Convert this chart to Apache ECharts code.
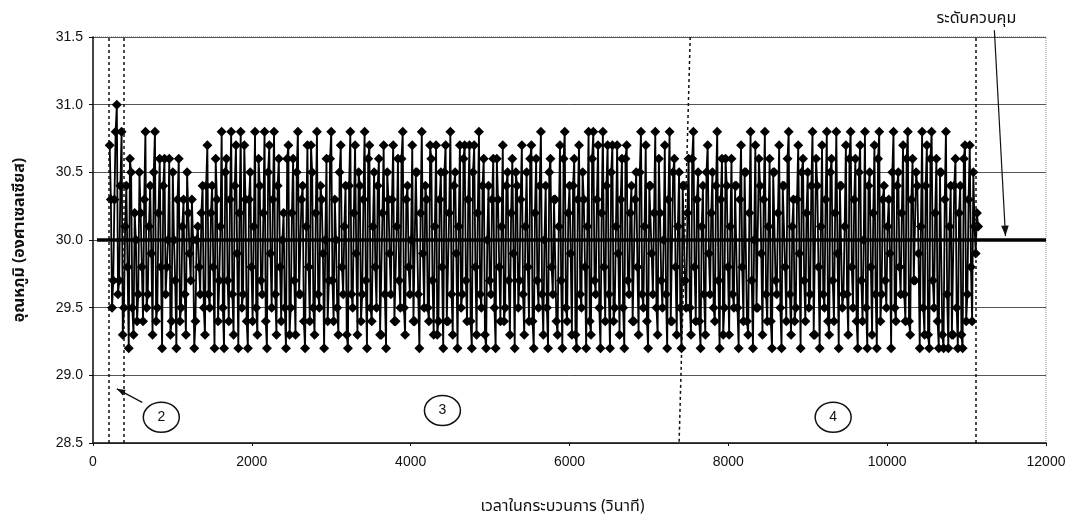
<!DOCTYPE html>
<html>
<head>
<meta charset="utf-8">
<script src="https://cdn.jsdelivr.net/npm/echarts@6/dist/echarts.min.js"></script>
<style>
  html, body { margin: 0; padding: 0; background: #fff; }
  #chart { width: 1075px; height: 519px; }
</style>
</head>
<body>
<div id="chart"></div>
<script>
// readings every 15 s from 210 s; tempsEven at 210, 240, ... and tempsOdd at 225, 255, ...
const startTime = 210
const stepTime = 15
const tempsEven = [
  30.7, 29.5, 30.3, 31.0, 29.7, 30.8, 29.5, 30.4, 29.2, 30.5, 29.3, 30.0, 29.6, 30.2, 29.4, 30.8, 29.6, 30.4, 29.3, 30.8,
  29.5, 30.6, 29.2, 30.6, 29.8, 30.6, 29.4, 30.0, 29.2, 30.6, 29.5, 30.3, 29.3, 30.2, 29.7, 30.0, 29.4, 30.1, 29.6, 30.4,
  29.3, 30.7, 29.5, 30.4, 29.2, 30.3, 29.7, 30.8, 29.2, 30.6, 29.4, 30.8, 29.3, 30.7, 29.2, 30.8, 29.6, 30.3, 29.2, 30.5,
  29.4, 30.8, 29.3, 30.4, 29.6, 30.8, 29.2, 30.7, 29.5, 30.8, 29.3, 30.6, 29.4, 30.2, 29.2, 30.7, 29.5, 30.6, 29.3, 30.8,
  29.6, 30.4, 29.2, 30.7, 29.4, 30.5, 29.3, 30.8, 29.5, 30.3, 29.2, 30.6, 29.7, 30.8, 29.4, 30.0, 29.3, 30.7, 29.6, 30.4,
  29.2, 30.8, 29.5, 30.7, 29.3, 30.4, 29.6, 30.8, 29.2, 30.7, 29.4, 30.5, 29.5, 30.6, 29.3, 30.7, 29.2, 30.3, 29.6, 30.7,
  29.4, 30.6, 29.5, 30.8, 29.3, 30.4, 29.6, 30.7, 29.4, 30.5, 29.2, 30.8, 29.5, 30.3, 29.4, 30.6, 29.3, 30.7, 29.4, 30.5,
  29.2, 30.7, 29.4, 30.8, 29.3, 30.5, 29.2, 30.7, 29.6, 30.7, 29.4, 30.7, 29.2, 30.7, 29.3, 30.8, 29.5, 30.6, 29.2, 30.4,
  29.6, 30.6, 29.2, 30.3, 29.4, 30.7, 29.5, 30.5, 29.3, 30.6, 29.2, 30.4, 29.7, 30.7, 29.3, 30.5, 29.4, 30.7, 29.2, 30.6,
  29.5, 30.8, 29.3, 30.4, 29.2, 30.6, 29.6, 30.3, 29.3, 30.7, 29.2, 30.8, 29.4, 30.4, 29.3, 30.6, 29.2, 30.7, 29.5, 30.3,
  29.2, 30.8, 29.3, 30.8, 29.6, 30.7, 29.2, 30.8, 29.4, 30.7, 29.2, 30.7, 29.5, 30.7, 29.3, 30.6, 29.2, 30.7, 29.6, 30.4,
  29.4, 30.5, 29.3, 30.8, 29.5, 30.7, 29.2, 30.4, 29.6, 30.8, 29.3, 30.2, 29.5, 30.7, 29.2, 30.8, 29.4, 30.6, 29.3, 30.5,
  29.2, 30.4, 29.5, 30.6, 29.3, 30.8, 29.4, 30.5, 29.2, 30.4, 29.3, 30.7, 29.6, 30.5, 29.4, 30.8, 29.2, 30.6, 29.5, 30.4,
  29.3, 30.6, 29.5, 30.4, 29.2, 30.7, 29.4, 30.5, 29.3, 30.8, 29.2, 30.7, 29.5, 30.4, 29.3, 30.8, 29.4, 30.6, 29.2, 30.5,
  29.6, 30.7, 29.2, 30.4, 29.4, 30.8, 29.3, 30.3, 29.5, 30.7, 29.2, 30.6, 29.4, 30.5, 29.6, 30.8, 29.3, 30.4, 29.2, 30.7,
  29.5, 30.8, 29.3, 30.6, 29.4, 30.8, 29.2, 30.4, 29.6, 30.7, 29.3, 30.8, 29.5, 30.6, 29.2, 30.7, 29.4, 30.8, 29.2, 30.5,
  29.3, 30.7, 29.2, 30.8, 29.6, 30.4, 29.5, 30.3, 29.2, 30.8, 29.4, 30.5, 29.6, 30.7, 29.4, 30.8, 29.3, 30.6, 29.7, 30.4,
  29.2, 30.8, 29.3, 30.7, 29.2, 30.8, 29.5, 30.6, 29.2, 30.5, 29.2, 30.8, 29.2, 30.4, 29.3, 30.6, 29.2, 30.4, 29.2, 30.7,
  29.6, 30.7, 29.4, 30.1, 30.2
]
const tempsOdd = [
  30.3, 29.7, 30.8, 29.6, 30.4, 29.3, 30.1, 29.8, 30.6, 29.5, 30.2, 29.4, 30.5, 29.8, 30.3, 29.5, 30.1, 29.9, 30.5, 29.4,
  30.2, 29.8, 30.4, 29.6, 30.0, 29.3, 30.5, 29.7, 30.3, 29.4, 30.1, 29.6, 30.5, 29.9, 30.3, 29.2, 30.0, 29.8, 30.2, 29.5,
  30.4, 29.6, 30.2, 29.8, 30.6, 29.4, 30.1, 29.5, 30.5, 29.7, 30.3, 29.6, 30.4, 29.9, 30.2, 29.5, 30.7, 29.4, 30.3, 29.8,
  30.1, 29.5, 30.6, 29.7, 30.2, 29.4, 30.5, 29.9, 30.3, 29.6, 30.4, 29.8, 30.0, 29.5, 30.6, 29.3, 30.2, 29.7, 30.5, 29.6,
  30.3, 29.4, 30.1, 29.8, 30.7, 29.5, 30.2, 29.6, 30.4, 29.9, 30.0, 29.4, 30.6, 29.7, 30.3, 29.5, 30.5, 29.8, 30.1, 29.3,
  30.4, 29.6, 30.2, 29.9, 30.5, 29.4, 30.3, 29.7, 30.6, 29.5, 30.1, 29.8, 30.4, 29.3, 30.2, 29.6, 30.5, 29.9, 30.3, 29.4,
  30.1, 29.7, 30.6, 29.5, 30.3, 29.8, 30.0, 29.4, 30.5, 29.6, 30.2, 29.9, 30.4, 29.5, 30.7, 29.7, 30.1, 29.3, 30.3, 29.8,
  30.5, 29.4, 30.2, 29.6, 30.4, 29.9, 30.1, 29.5, 30.6, 29.7, 30.3, 29.4, 30.5, 29.8, 30.2, 29.6, 30.4, 29.3, 30.0, 29.7,
  30.3, 29.5, 30.6, 29.8, 30.1, 29.4, 30.4, 29.7, 30.2, 29.9, 30.5, 29.5, 30.3, 29.6, 30.1, 29.8, 30.6, 29.4, 30.2, 29.7,
  30.4, 29.6, 30.0, 29.5, 30.5, 29.8, 30.3, 29.4, 30.1, 29.7, 30.6, 29.5, 30.2, 29.9, 30.4, 29.3, 30.3, 29.6, 30.5, 29.8,
  30.1, 29.4, 30.6, 29.7, 30.3, 29.5, 30.2, 29.8, 30.4, 29.6, 30.5, 29.4, 30.1, 29.9, 30.3, 29.5, 30.6, 29.7, 30.2, 29.4,
  30.3, 29.8, 30.5, 29.6, 30.1, 29.4, 30.4, 29.9, 30.2, 29.5, 30.6, 29.7, 30.0, 29.6, 30.3, 29.4, 30.5, 29.8, 30.1, 29.5,
  30.4, 29.7, 30.2, 29.5, 30.6, 29.8, 30.3, 29.4, 30.1, 29.6, 30.5, 29.9, 30.2, 29.5, 30.4, 29.7, 30.3, 29.3, 30.6, 29.8,
  30.1, 29.6, 30.4, 29.5, 30.3, 29.8, 30.5, 29.4, 30.2, 29.7, 30.0, 29.5, 30.6, 29.9, 30.3, 29.6, 30.1, 29.4, 30.5, 29.7,
  30.2, 29.5, 30.4, 29.8, 30.6, 29.6, 30.1, 29.4, 30.3, 29.9, 30.5, 29.7, 30.2, 29.5, 30.4, 29.3, 30.6, 29.8, 30.1, 29.6,
  30.3, 29.4, 30.5, 29.7, 30.2, 29.9, 30.4, 29.5, 30.1, 29.6, 30.6, 29.8, 30.3, 29.4, 30.5, 29.7, 30.0, 29.5, 30.4, 29.8,
  30.2, 29.6, 30.6, 29.4, 30.3, 29.7, 30.1, 29.9, 30.5, 29.5, 30.4, 29.8, 30.2, 29.6, 30.6, 29.4, 30.3, 29.7, 30.5, 29.9,
  30.1, 29.5, 30.4, 29.3, 30.6, 29.7, 30.2, 29.4, 30.5, 29.3, 30.3, 29.6, 30.1, 29.3, 30.4, 29.5, 30.2, 29.3, 30.6, 29.4,
  30.3, 29.8, 30.5, 29.9, 30.1
]

const controlLevel = 30.0
const controlSpan = [50, 12000]
const phaseLines = [200, 390, 11110]
const slantLine = [[7520, 31.5], [7380, 28.5]]

const xTicks = { min: 0, max: 12000, interval: 2000 }
const yTicks = { min: 28.5, max: 31.5, interval: 0.5 }

const points = []
tempsEven.forEach((v, i) => {
  points.push([startTime + 2 * i * stepTime, v])
  if (i < tempsOdd.length - 1 || i === tempsEven.length - 1)
    points.push([startTime + (2 * i + 1) * stepTime, tempsOdd[i]])
})

const thaiFont = '"Noto Sans Thai", "Noto Sans", "DejaVu Sans", sans-serif'
const numFont = '"Liberation Sans", Arial, sans-serif'

const chart = echarts.init(document.getElementById('chart'), null, { renderer: 'canvas' })

chart.setOption({
  animation: false,
  backgroundColor: '#fff',
  grid: {
    left: 93,
    right: 29,
    top: 37,
    bottom: 76,
    outerBoundsMode: 'none',
    show: true,
    borderColor: '#888',
    borderWidth: 1,
    borderType: 'dotted',
  },
  xAxis: {
    type: 'value',
    ...xTicks,
    name: 'เวลาในกระบวนการ (วินาที)',
    nameLocation: 'middle',
    nameGap: 57,
    nameTextStyle: { color: '#111', fontSize: 16, fontFamily: thaiFont, padding: [0, 14, 0, 0] },
    axisLine: { lineStyle: { color: '#111', width: 1.5 } },
    axisTick: { show: true, length: 3, lineStyle: { color: '#111' } },
    axisLabel: { color: '#111', fontSize: 14, fontFamily: numFont, margin: 12, formatter: v => String(v) },
    splitLine: { show: false },
  },
  yAxis: {
    type: 'value',
    ...yTicks,
    name: 'อุณหภูมิ (องศาเซลเซียส)',
    nameLocation: 'middle',
    nameGap: 64,
    nameTextStyle: { color: '#111', fontSize: 16, fontWeight: 'bold', fontFamily: thaiFont },
    axisLine: { show: true, lineStyle: { color: '#111', width: 1.5 } },
    axisTick: { show: true, length: 4, lineStyle: { color: '#111' } },
    axisLabel: {
      color: '#111',
      fontSize: 14,
      fontFamily: numFont,
      margin: 10,
      formatter: v => v.toFixed(1),
    },
    splitLine: { show: true, lineStyle: { color: '#555', width: 1 } },
  },
  series: [
    {
      name: 'temperature',
      type: 'line',
      data: points,
      symbol: 'diamond',
      symbolSize: 10,
      showSymbol: true,
      showAllSymbol: true,
      lineStyle: { color: '#000', width: 1.8 },
      itemStyle: { color: '#000' },
      z: 3,
      markLine: {
        silent: true,
        symbol: 'none',
        label: { show: false },
        lineStyle: { color: '#111', type: [3, 3], width: 1.5 },
        data: [
          ...phaseLines.map(x => ({ xAxis: x })),
          [{ coord: slantLine[0] }, { coord: slantLine[1] }],
        ],
      },
    },
    {
      name: 'control',
      type: 'line',
      data: controlSpan.map(x => [x, controlLevel]),
      symbol: 'none',
      lineStyle: { color: '#000', width: 3.5 },
      z: 4,
    },
  ],
})

// annotation bubbles and arrows placed in data space
const px = p => chart.convertToPixel({ gridIndex: 0 }, p)
const bubbles = [
  { label: '2', at: [860, 28.69] },
  { label: '3', at: [4400, 28.74] },
  { label: '4', at: [9320, 28.69] },
]
const bubbleArrow = { from: [620, 28.8], to: [300, 28.9] }
const controlArrow = { from: [11350, 31.55], to: [11490, 30.03] }

function arrow(from, to, head) {
  const a = Math.atan2(to[1] - from[1], to[0] - from[0])
  const l = [to[0] - head * Math.cos(a - 0.35), to[1] - head * Math.sin(a - 0.35)]
  const r = [to[0] - head * Math.cos(a + 0.35), to[1] - head * Math.sin(a + 0.35)]
  return [
    { type: 'line', shape: { x1: from[0], y1: from[1], x2: to[0], y2: to[1] }, style: { stroke: '#111', lineWidth: 1.2 } },
    { type: 'polygon', shape: { points: [to, l, r] }, style: { fill: '#111' } },
  ]
}

const cFrom = px(controlArrow.from)
const cTo = px(controlArrow.to)
const bFrom = px(bubbleArrow.from)
const bTo = px(bubbleArrow.to)

chart.setOption({
  graphic: [
    ...bubbles.flatMap(b => {
      const c = px(b.at)
      return [
        { type: 'ellipse', shape: { cx: c[0], cy: c[1], rx: 18, ry: 15 }, style: { fill: '#fff', stroke: '#111', lineWidth: 1.5 }, z: 10 },
        { type: 'text', x: c[0], y: c[1], style: { text: b.label, fill: '#111', font: '14px ' + numFont, align: 'center', verticalAlign: 'middle' }, z: 11 },
      ]
    }),
    ...arrow(bFrom, bTo, 9),
    ...arrow(cFrom, cTo, 11),
    {
      type: 'text',
      x: cFrom[0] - 18,
      y: 20,
      style: { text: 'ระดับควบคุม', fill: '#111', font: '16px ' + thaiFont, align: 'center', verticalAlign: 'middle' },
    },
  ],
})
</script>
</body>
</html>
